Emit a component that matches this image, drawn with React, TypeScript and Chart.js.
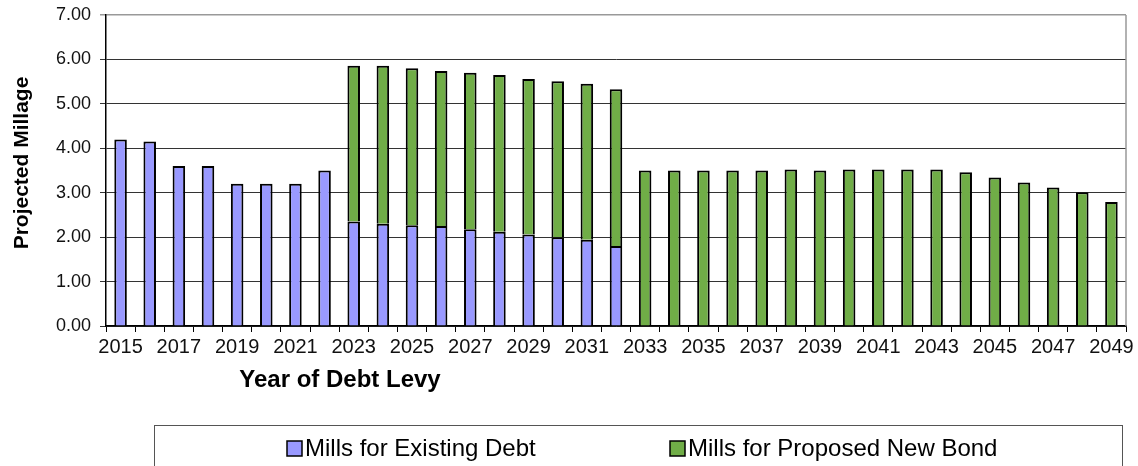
import React, { useEffect, useRef } from "react";
import { Chart, registerables } from "chart.js";

Chart.register(...registerables);

const years: string[] = [
  "2015", "2016", "2017", "2018", "2019", "2020", "2021", "2022", "2023", "2024",
  "2025", "2026", "2027", "2028", "2029", "2030", "2031", "2032", "2033", "2034",
  "2035", "2036", "2037", "2038", "2039", "2040", "2041", "2042", "2043", "2044",
  "2045", "2046", "2047", "2048", "2049",
];

const existingDebt: (number | null)[] = [
  4.2, 4.15, 3.6, 3.6, 3.2, 3.2, 3.2, 3.5, 2.35, 2.3,
  2.27, 2.25, 2.18, 2.12, 2.06, 2.0, 1.94, 1.8, null, null,
  null, null, null, null, null, null, null, null, null, null,
  null, null, null, null, null,
];

const newBond: (number | null)[] = [
  null, null, null, null, null, null, null, null, 3.51, 3.56,
  3.53, 3.49, 3.52, 3.53, 3.5, 3.51, 3.51, 3.53, 3.5, 3.5,
  3.5, 3.5, 3.5, 3.52, 3.5, 3.52, 3.52, 3.52, 3.52, 3.46,
  3.34, 3.23, 3.12, 3.01, 2.79,
];

const seriesLabels = ["Mills for Existing Debt", "Mills for Proposed New Bond"];
const seriesColors = ["#9999FF", "#70AD47"];
const yTitle = "Projected Millage";
const xTitle = "Year of Debt Levy";

const FONT = "'Liberation Sans', Arial, Helvetica, sans-serif";

const decorPlugin = {
  id: "decor",
  afterDraw(chart: any) {
    const ctx = chart.ctx as CanvasRenderingContext2D;
    const area = chart.chartArea;
    ctx.save();
    // right border of plot area
    ctx.strokeStyle = "#999";
    ctx.lineWidth = 1.5;
    ctx.beginPath();
    ctx.moveTo(area.right, area.top);
    ctx.lineTo(area.right, area.bottom);
    ctx.stroke();

    // y title
    ctx.fillStyle = "#000";
    ctx.font = `bold 21px ${FONT}`;
    ctx.textAlign = "center";
    ctx.textBaseline = "middle";
    ctx.save();
    ctx.translate(22, 163);
    ctx.rotate(-Math.PI / 2);
    ctx.fillText(yTitle, 0, 0);
    ctx.restore();

    // x title
    ctx.font = `bold 24px ${FONT}`;
    ctx.textAlign = "center";
    ctx.textBaseline = "middle";
    ctx.fillText(xTitle, 340, 380);

    // legend box
    ctx.strokeStyle = "#555";
    ctx.lineWidth = 1;
    ctx.strokeRect(154.5, 425.5, 968, 60);

    const ds = chart.data.datasets;
    const markerX = [287, 670];
    ctx.font = `24px ${FONT}`;
    ctx.textAlign = "left";
    ctx.textBaseline = "middle";
    ds.forEach((d: any, i: number) => {
      const mx = markerX[i];
      ctx.fillStyle = d.backgroundColor;
      ctx.fillRect(mx, 441, 15, 15);
      ctx.strokeStyle = "#000";
      ctx.lineWidth = 1.5;
      ctx.strokeRect(mx, 441, 15, 15);
      ctx.fillStyle = "#000";
      ctx.fillText(d.label, mx + 18, 449);
    });
    ctx.restore();
  },
};

export default function App() {
  const canvasRef = useRef<HTMLCanvasElement | null>(null);

  useEffect(() => {
    if (!canvasRef.current) return;
    const chart = new Chart(canvasRef.current, {
      type: "bar",
      data: {
        labels: years,
        datasets: [
          {
            label: seriesLabels[0],
            data: existingDebt,
            backgroundColor: seriesColors[0],
            borderColor: "#000",
            borderWidth: 2,
            barPercentage: 0.43,
            categoryPercentage: 1,
          },
          {
            label: seriesLabels[1],
            data: newBond,
            backgroundColor: seriesColors[1],
            borderColor: "#000",
            borderWidth: 2,
            barPercentage: 0.43,
            categoryPercentage: 1,
          },
        ],
      },
      options: {
        animation: false,
        responsive: true,
        maintainAspectRatio: false,
        layout: { padding: { top: 15, right: 12, left: 0, bottom: 0 } },
        plugins: {
          legend: { display: false },
          tooltip: { enabled: false },
        },
        scales: {
          x: {
            stacked: true,
            offset: true,
            grid: {
              display: true,
              offset: true,
              drawOnChartArea: false,
              drawTicks: true,
              tickLength: 6,
              color: "#000",
            },
            border: { color: "#000", width: 1.5 },
            ticks: {
              autoSkip: false,
              maxRotation: 0,
              minRotation: 0,
              padding: 3,
              color: "#111",
              font: { family: FONT, size: 20 },
              callback: (_v: any, i: number) => (i % 2 === 0 ? years[i] : ""),
            },
            afterFit: (scale: any) => {
              scale.height = 140;
              scale.paddingLeft = 0;
              scale.paddingRight = 0;
            },
          },
          y: {
            stacked: true,
            min: 0,
            max: 7,
            ticks: {
              stepSize: 1,
              padding: 9,
              color: "#111",
              font: { family: FONT, size: 18 },
              callback: (v: any) => Number(v).toFixed(2),
            },
            grid: {
              tickLength: 6,
              color: (c: any) => (c.tick && c.tick.value === 7 ? "#999" : "#333"),
              lineWidth: (c: any) => (c.tick && c.tick.value === 7 ? 1.5 : 1),
            },
            border: { color: "#000", width: 1.5 },
            afterFit: (scale: any) => {
              scale.width = 106;
              scale.paddingTop = 0;
              scale.paddingBottom = 0;
            },
          },
        },
      },
      plugins: [decorPlugin],
    });
    return () => chart.destroy();
  }, []);

  return (
    <div style={{ position: "fixed", left: 0, top: 0, width: 1138, height: 466, background: "#fff" }}>
      <canvas ref={canvasRef} />
    </div>
  );
}
